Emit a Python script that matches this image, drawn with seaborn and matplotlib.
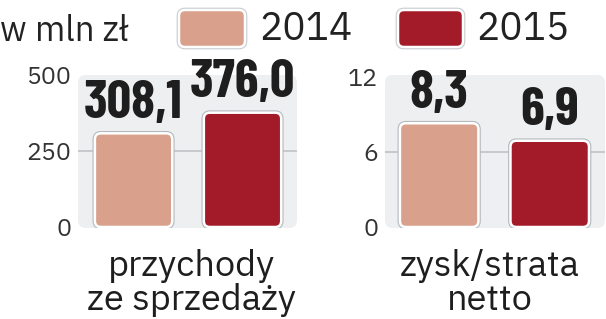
import matplotlib
matplotlib.use("Agg")
import matplotlib.pyplot as plt
import seaborn as sns
import pandas as pd
from matplotlib.patches import FancyBboxPatch

years = ["2014", "2015"]
colors = ["#D9A08C", "#A31A28"]
revenue = [308.1, 376.0]
profit = [8.3, 6.9]
revenue_ticks = [0, 250, 500]
profit_ticks = [0, 6, 12]
revenue_labels = ["308,1", "376,0"]
profit_labels = ["8,3", "6,9"]
categories = ["przychody\nze sprzedaży", "zysk/strata\nnetto"]
unit_label = "w mln zł"

sns.set_theme(style="white")
REG = ["IBM Plex Sans", "Open Sans", "DejaVu Sans"]
LIGHT = ["IBM Plex Sans Light", "IBM Plex Sans", "DejaVu Sans"]
COND = ["Barlow Condensed", "Roboto Condensed", "DejaVu Sans"]
plt.rcParams["font.family"] = REG

W, H = 606, 319
fig = plt.figure(figsize=(W / 100, H / 100), dpi=100)
fig.patch.set_facecolor("white")


def px(x0, y0, x1, y1):
    return [x0 / W, 1 - y1 / H, (x1 - x0) / W, (y1 - y0) / H]


panels = [
    dict(vals=revenue, ticks=revenue_ticks, labels=revenue_labels, rect=px(78, 75, 297, 228),
         ylim=(-3.3, 500), xlim=(-0.51, 1.5), cat=categories[0], cx=191),
    dict(vals=profit, ticks=profit_ticks, labels=profit_labels, rect=px(385, 75, 605, 228),
         ylim=(-0.08, 12.16), xlim=(-0.49, 1.5), cat=categories[1], cx=490),
]

for p in panels:
    ax = fig.add_axes(p["rect"])
    df = pd.DataFrame({"year": years, "value": p["vals"]})
    sns.barplot(data=df, x="year", y="value", hue="year", palette=colors, width=0.71,
                saturation=1, legend=False, ax=ax, zorder=3)
    ax.set_xlim(*p["xlim"])
    ax.set_ylim(*p["ylim"])
    ax.set_facecolor("none")
    for s in ax.spines.values():
        s.set_visible(False)
    bbox = ax.get_window_extent()
    asp = bbox.width / bbox.height
    bg = FancyBboxPatch((0, 0), 1, 1, boxstyle="round,pad=0,rounding_size=0.035",
                        mutation_aspect=asp, transform=ax.transAxes,
                        facecolor="#EEEFF0", edgecolor="none", zorder=0, clip_on=False)
    ax.add_patch(bg)
    ax.set_yticks(p["ticks"])
    ax.set_yticklabels([str(t) for t in p["ticks"]])
    for t in p["ticks"][1:-1]:
        ax.axhline(t, color="#BFC3C6", lw=1.2, zorder=1)
    ax.tick_params(axis="y", length=0, pad=5, labelsize=18, labelcolor="#333333")
    for lab in ax.get_yticklabels():
        lab.set_family(LIGHT)
        lab.set_fontweight(300)
    ax.set_xticks([])
    ax.set_xlabel("")
    ax.set_ylabel("")
    ux = (p["xlim"][1] - p["xlim"][0]) / bbox.width
    uy = (p["ylim"][1] - p["ylim"][0]) / bbox.height
    bars = [b for b in ax.patches if not isinstance(b, FancyBboxPatch)]
    for i, bar in enumerate(bars):
        x, y = bar.get_x(), bar.get_y()
        w, h = bar.get_width(), bar.get_height()
        fc = bar.get_facecolor()
        bar.set_visible(False)
        shadow = FancyBboxPatch((x, y), w, h, boxstyle=f"round,pad=0,rounding_size={6*ux}",
                                mutation_aspect=uy / ux, facecolor="none",
                                edgecolor="#B4B9BE", lw=3.4, zorder=2.5)
        ax.add_patch(shadow)
        rb = FancyBboxPatch((x, y), w, h, boxstyle=f"round,pad=0,rounding_size={6*ux}",
                            mutation_aspect=uy / ux, facecolor=fc,
                            edgecolor="white", lw=1.8, zorder=3)
        ax.add_patch(rb)
        ax.annotate(p["labels"][i], (x + w / 2, y + h), xytext=(0, 11),
                    textcoords="offset points", ha="center", va="baseline",
                    fontsize=39, fontweight="bold", family=COND, color="#1E1E1E", zorder=4)
    for line, base in zip(p["cat"].split("\n"), (276, 310)):
        fig.text(p["cx"] / W, 1 - base / H, line, ha="center", va="baseline",
                 fontsize=26, color="#1E1E1E")

# legend
fig.text(0 / W, 1 - 31 / H, unit_label, ha="left", va="center", fontsize=25,
         color="#222222", family=LIGHT, fontweight=300)
for (x0, x1, tx), c, yr in zip([(179, 245, 259), (398, 463, 476)], colors, years):
    sh = FancyBboxPatch((x0 / W, 1 - 47 / H), (x1 - x0) / W, 37 / H,
                        boxstyle=f"round,pad=0,rounding_size={6/W}", mutation_aspect=W / H,
                        transform=fig.transFigure, facecolor="none", edgecolor="#C8CCD0",
                        lw=3.4)
    fig.patches.append(sh)
    r = FancyBboxPatch((x0 / W, 1 - 47 / H), (x1 - x0) / W, 37 / H,
                       boxstyle=f"round,pad=0,rounding_size={6/W}", mutation_aspect=W / H,
                       transform=fig.transFigure, facecolor=c, edgecolor="white", lw=1.8)
    fig.patches.append(r)
    fig.text(tx / W, 1 - 29 / H, yr, ha="left", va="center", fontsize=28,
             color="#222222", family=LIGHT, fontweight=300)

fig.savefig("out.png", dpi=100, facecolor="white")
